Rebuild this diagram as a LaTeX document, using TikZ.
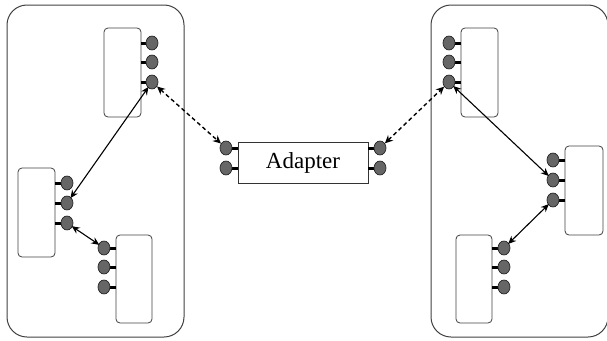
\documentclass[tikz,border=0pt]{standalone}
\usepackage{fontspec}
\setmainfont{Liberation Serif}
\usetikzlibrary{shapes.geometric,arrows.meta}
\tikzset{
  outer/.style={draw=black!75, line width=1pt, rounded corners=20pt},
  comp/.style={draw=black!75, line width=0.8pt, rounded corners=4pt},
  port/.style={ellipse, draw=black!85, fill=black!60, line width=0.7pt, minimum width=12pt, minimum height=14pt, inner sep=0pt},
  stub/.style={line width=3pt, black},
  link/.style={line width=1.1pt, {Stealth[length=8pt,width=7pt]}-{Stealth[length=8pt,width=7pt]}, shorten <=-1pt, shorten >=-1pt},
  dlink/.style={line width=1.4pt, dash pattern=on 4pt off 3pt, {Stealth[length=8pt,width=7.5pt]}-{Stealth[length=8pt,width=7.5pt]}},
}
\begin{document}
\begin{tikzpicture}[x=1pt,y=-1pt]
\useasboundingbox (0,0) rectangle (607,340);
% outer containers
\draw[outer] (7,5) rectangle (184,337);
\draw[outer] (431,5) rectangle (608,337);
% left components
\draw[comp] (104,28) rectangle (141,117);
\draw[comp] (18,168) rectangle (55,257);
\draw[comp] (116,235) rectangle (152,323);
% right components
\draw[comp] (461,28) rectangle (498,117);
\draw[comp] (565,146) rectangle (603,235);
\draw[comp] (456,235) rectangle (492,323);
% adapter
\node[draw=black!80, line width=0.8pt, minimum width=130pt, minimum height=41pt, inner sep=0pt, font=\fontsize{23}{27}\selectfont] (adp) at (303,162.5) {Adapter};
% stubs
\foreach \y in {43,62,82} {\draw[stub] (141,\y) -- (150,\y); \draw[stub] (461,\y) -- (451,\y);}
\foreach \y in {183,203,223} {\draw[stub] (55,\y) -- (65,\y);}
\foreach \y in {248,267,287} {\draw[stub] (116,\y) -- (106,\y); \draw[stub] (492,\y) -- (502,\y);}
\foreach \y in {160,180,200} {\draw[stub] (565,\y) -- (555,\y);}
\foreach \y in {148,168} {\draw[stub] (238,\y) -- (228,\y); \draw[stub] (368,\y) -- (378,\y);}
% ports left
\node[port] (la1) at (152,43) {};
\node[port] (la2) at (152,62) {};
\node[port] (la3) at (152,82) {};
\node[port] (lb1) at (67,183) {};
\node[port] (lb2) at (67,203) {};
\node[port] (lb3) at (67,223) {};
\node[port] (lc1) at (104,248) {};
\node[port] (lc2) at (104,267) {};
\node[port] (lc3) at (104,287) {};
% ports right
\node[port] (ra1) at (449,43) {};
\node[port] (ra2) at (449,62) {};
\node[port] (ra3) at (449,82) {};
\node[port] (rb1) at (553,160) {};
\node[port] (rb2) at (553,180) {};
\node[port] (rb3) at (553,200) {};
\node[port] (rc1) at (504,248) {};
\node[port] (rc2) at (504,267) {};
\node[port] (rc3) at (504,287) {};
% adapter ports
\node[port] (al1) at (226,148) {};
\node[port] (al2) at (226,168) {};
\node[port] (ar1) at (380,148) {};
\node[port] (ar2) at (380,168) {};
% connectors
\draw[link] (la3) -- (lb2);
\draw[link] (lb3) -- (lc1);
\draw[link] (ra3) -- (rb2);
\draw[link] (rb3) -- (rc1);
\draw[dlink] (la3) -- (al1);
\draw[dlink] (ar1) -- (ra3);
\end{tikzpicture}
\end{document}
